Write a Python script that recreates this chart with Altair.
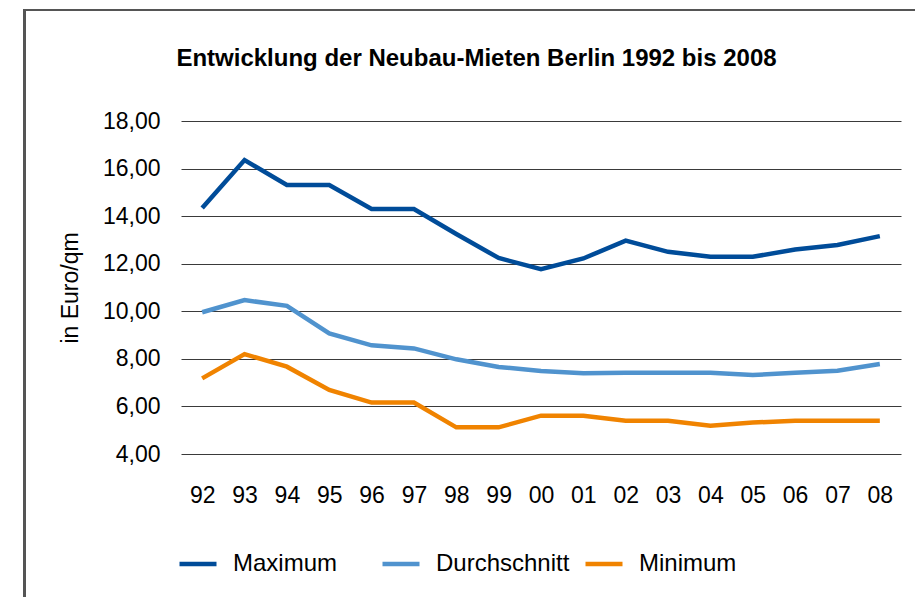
import altair as alt
import pandas as pd

years = ["92", "93", "94", "95", "96", "97", "98", "99", "00", "01", "02", "03", "04", "05", "06", "07", "08"]
maximum = [14.34, 16.36, 15.31, 15.31, 14.30, 14.30, 13.25, 12.24, 11.77, 12.22, 12.97, 12.50, 12.29, 12.29, 12.60, 12.79, 13.16]
durchschnitt = [9.96, 10.47, 10.23, 9.07, 8.57, 8.44, 7.98, 7.66, 7.49, 7.39, 7.42, 7.42, 7.42, 7.32, 7.42, 7.50, 7.78]
minimum = [7.18, 8.20, 7.67, 6.69, 6.16, 6.16, 5.12, 5.12, 5.61, 5.61, 5.40, 5.40, 5.19, 5.32, 5.40, 5.40, 5.40]

series_names = ["Maximum", "Durchschnitt", "Minimum"]
series_colors = ["#004C99", "#5093CE", "#F08300"]

rows = []
for name, vals in zip(series_names, [maximum, durchschnitt, minimum]):
    for y, v in zip(years, vals):
        rows.append({"Jahr": y, "Wert": v, "Reihe": name})
df = pd.DataFrame(rows)

FONT = "Liberation Sans"

lines = alt.Chart(df).mark_line(strokeWidth=4.5).encode(
    x=alt.X("Jahr:O", sort=years, scale=alt.Scale(type="point", padding=0.5),
            axis=alt.Axis(title=None, labelAngle=0, domain=False, ticks=False, grid=False,
                          labelFontSize=23, labelPadding=30, labelColor="#000", labelFont=FONT)),
    y=alt.Y("Wert:Q", scale=alt.Scale(domain=[4, 18], nice=False, zero=False),
            axis=alt.Axis(title="in Euro/qm", values=[4, 6, 8, 10, 12, 14, 16, 18],
                          labelExpr="replace(format(datum.value, '.2f'), '.', ',')",
                          domain=False, ticks=False, grid=True, gridColor="#3a3a3a", gridWidth=1,
                          labelFontSize=23, labelPadding=21, labelColor="#000", labelFont=FONT,
                          titleFontSize=23, titleFontWeight="normal", titleColor="#000", titleFont=FONT,
                          titleX=-111, titleY=166.5, titleAlign="center", titleBaseline="middle")),
    color=alt.Color("Reihe:N", sort=series_names,
                    scale=alt.Scale(domain=series_names, range=series_colors),
                    legend=alt.Legend(title=None, orient="none", legendX=-4, legendY=422,
                                      direction="horizontal", columns=3, gridAlign="all",
                                      symbolType="stroke", symbolSize=1369, symbolStrokeWidth=4.5,
                                      labelFontSize=24, labelFont=FONT, labelColor="#000",
                                      labelOffset=14, columnPadding=6, padding=0)),
)

frame_left = alt.Chart(df).mark_rule(color="#555555", strokeWidth=2).encode(
    x=alt.value(-156.5), y=alt.value(-111), y2=alt.value(480)
)
frame_top = alt.Chart(df).mark_rule(color="#555555", strokeWidth=2).encode(
    x=alt.value(-157.5), x2=alt.value(740), y=alt.value(-111)
)

chart = alt.layer(frame_left, frame_top, lines).properties(
    width=720,
    height=333,
    autosize=alt.AutoSizeParams(type="none"),
    padding={"left": 173, "top": 113, "right": 14, "bottom": 143},
    title=alt.Title("Entwicklung der Neubau-Mieten Berlin 1992 bis 2008",
                    fontSize=24, fontWeight="bold", font=FONT, color="#000",
                    anchor="middle", frame="group", dx=-64.5, offset=-81, baseline="alphabetic"),
).configure_view(stroke=None)

chart.save("out.html", embed_options={"renderer": "svg", "actions": False})
